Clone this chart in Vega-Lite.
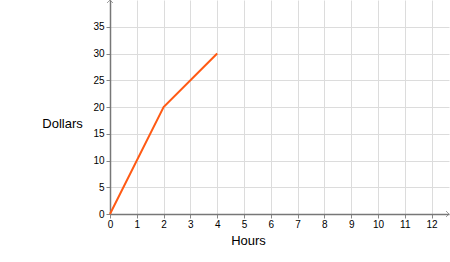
{
  "$schema": "https://vega.github.io/schema/vega-lite/v6.json",
  "width": 339,
  "height": 214,
  "autosize": {"type": "none"},
  "padding": {"left": 110, "top": 0, "right": 1, "bottom": 48},
  "background": "white",
  "config": {
    "view": {"stroke": null},
    "font": "Liberation Sans"
  },
  "datasets": {
    "line": [
      {"hours": 0, "dollars": 0},
      {"hours": 2, "dollars": 20},
      {"hours": 4, "dollars": 30}
    ],
    "arrows": [
      {"hours": 12.65, "dollars": 0, "dir": "right"},
      {"hours": 0, "dollars": 40, "dir": "up"}
    ]
  },
  "encoding": {
    "x": {
      "field": "hours", "type": "quantitative",
      "scale": {"domain": [0, 12.65], "nice": false, "zero": false},
      "axis": {
        "values": [0,1,2,3,4,5,6,7,8,9,10,11,12],
        "title": "Hours",
        "titleFont": "Liberation Sans",
        "titleFontSize": 13,
        "titleFontWeight": "normal",
        "titleColor": "#000000",
        "titleAlign": "center",
        "titleBaseline": "middle",
        "titleX": 138,
        "titleY": 26,
        "labelFontSize": 10,
        "labelColor": "#000000",
        "labelPadding": 1,
        "labelFlush": false,
        "labelOverlap": false,
        "labelBound": false,
        "tickSize": 4,
        "tickColor": "#888888",
        "domainColor": "#777777",
        "domainWidth": 1.5,
        "grid": true,
        "gridColor": "#dcdcdc",
        "gridWidth": 1
      }
    },
    "y": {
      "field": "dollars", "type": "quantitative",
      "scale": {"domain": [0, 40], "nice": false, "zero": false},
      "axis": {
        "values": [0,5,10,15,20,25,30,35],
        "title": "Dollars",
        "titleFont": "Liberation Sans",
        "titleFontSize": 13,
        "titleFontWeight": "normal",
        "titleColor": "#000000",
        "titleAngle": 0,
        "titleAlign": "center",
        "titleBaseline": "middle",
        "titleX": -48,
        "titleY": 123,
        "labelFontSize": 10,
        "labelColor": "#000000",
        "labelPadding": 2,
        "labelFlush": false,
        "labelOverlap": false,
        "labelBound": false,
        "tickSize": 4,
        "tickColor": "#888888",
        "domainColor": "#777777",
        "domainWidth": 1.5,
        "grid": true,
        "gridColor": "#dcdcdc",
        "gridWidth": 1
      }
    }
  },
  "layer": [
    {
      "data": {"name": "line"},
      "mark": {"type": "line", "color": "#ff5a14", "strokeWidth": 2, "clip": false}
    },
    {
      "data": {"name": "arrows"},
      "mark": {"type": "point", "filled": false, "stroke": "#777777", "strokeWidth": 1, "size": 36, "clip": false},
      "encoding": {
        "shape": {
          "field": "dir", "type": "nominal",
          "scale": {"domain": ["right", "up"], "range": ["M-1,-1L0,0L-1,1", "M-1,1L0,0L1,1"]},
          "legend": null
        }
      }
    }
  ]
}
